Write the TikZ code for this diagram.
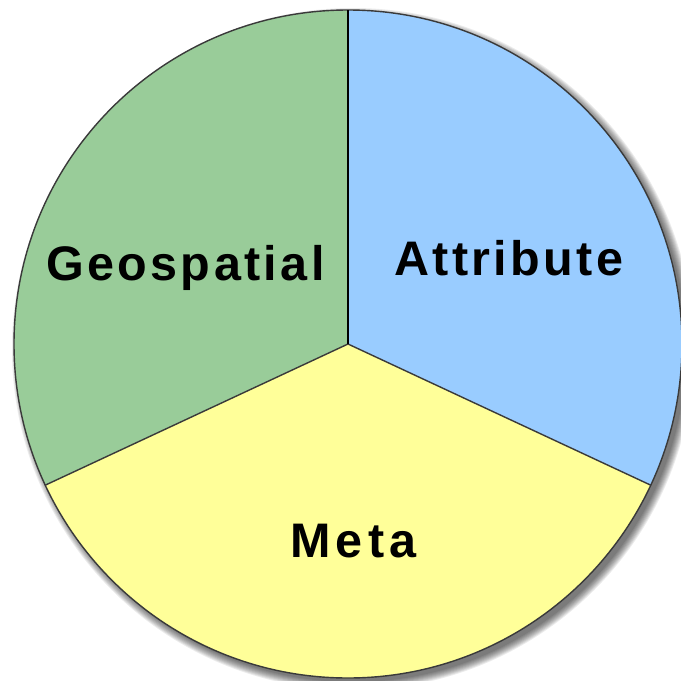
\documentclass[tikz,border=0pt]{standalone}
\usetikzlibrary{calc}
\usepackage{fontspec}
\setmainfont{Liberation Sans}
\newfontfamily\lblfont[LetterSpace=7]{Liberation Sans}
\newfontfamily\lblfontwide[LetterSpace=11]{Liberation Sans}
\definecolor{geogreen}{HTML}{99CC99}
\definecolor{attrblue}{HTML}{99CCFF}
\definecolor{metayellow}{HTML}{FFFF99}
\definecolor{rimgray}{HTML}{3A3A3A}
\tikzset{
  lbl/.style={font=\lblfont\bfseries\fontsize{69}{80}\selectfont, inner sep=0, anchor=base west},
  lblwide/.style={font=\lblfontwide\bfseries\fontsize{69}{80}\selectfont, inner sep=0, anchor=base west},
}
\begin{document}
\begin{tikzpicture}[x=0.5mm,y=-0.5mm]
\useasboundingbox (0,0) rectangle (681,681);
\coordinate (c) at (348,344);
% shadow
\foreach \k in {0,1,...,8}{
  \fill[black, opacity=0.08] ($(c)+(5,5)$) circle[radius=333+\k*1.0];
}
% wedges
\fill[geogreen] (c) -- ++(0,-334) arc[start angle=-90,delta angle=-115,radius=334] -- cycle;
\fill[attrblue] (c) -- ++(0,-334) arc[start angle=-90,delta angle=115,radius=334] -- cycle;
\fill[metayellow] (c) -- ++(25:334) arc[start angle=25,delta angle=130,radius=334] -- cycle;
\draw[draw=rimgray, line width=2] (c) circle[radius=334];
\draw[rimgray, line width=2] (c) -- ++(25:334);
\draw[rimgray, line width=2] (c) -- ++(155:334);
\draw[black, line width=3] (c) -- ++(0,-334);
\node[lbl] (geo) at (46,280) {Geospatial};
\node[lbl] (attr) at (394,275) {Attribute};
\node[lblwide] (meta) at (290,557) {Meta};
\end{tikzpicture}
\end{document}
